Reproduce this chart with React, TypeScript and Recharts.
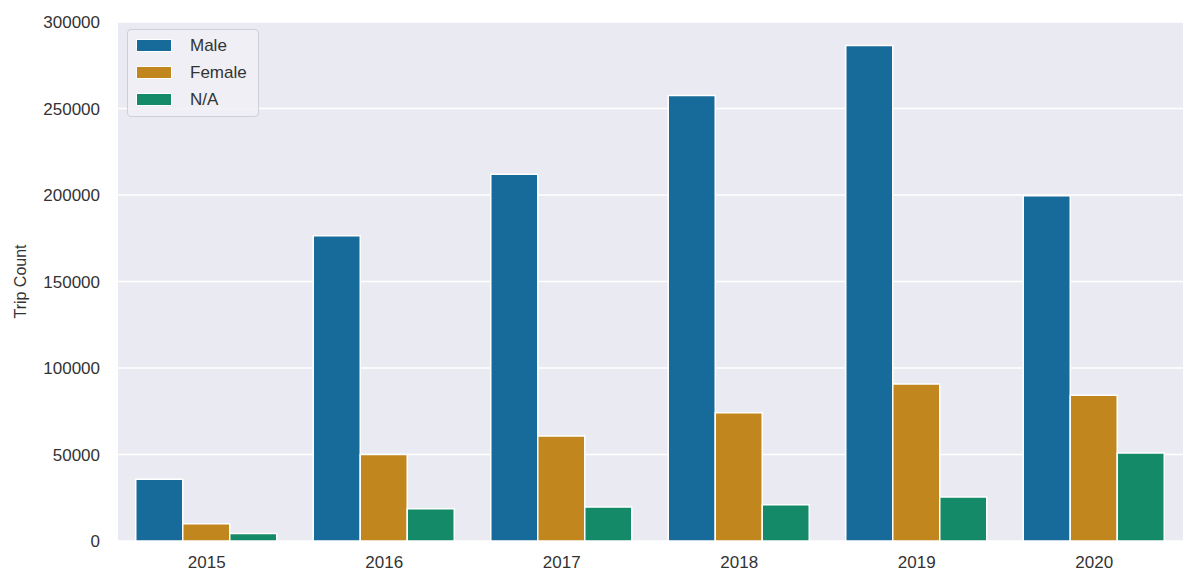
import React from 'react';
import { BarChart, Bar, XAxis, YAxis, CartesianGrid, Legend } from 'recharts';

const years = ['2015', '2016', '2017', '2018', '2019', '2020'];
const male = [35700, 176500, 212000, 257500, 286400, 199500];
const female = [9900, 50000, 60700, 74200, 90800, 84200];
const na = [4300, 18700, 19700, 21000, 25400, 50900];
const yTicks = [0, 50000, 100000, 150000, 200000, 250000, 300000];

const seriesNames = ['Male', 'Female', 'N/A'];
const colors = ['#176b9b', '#c2861f', '#148a68'];

const data = years.map((y, i) => ({ year: y, Male: male[i], Female: female[i], 'N/A': na[i] }));

const FONT = '"Liberation Sans", Arial, Helvetica, sans-serif';

const renderLegend = () => (
  <div
    style={{
      border: '1px solid #cfcfd6',
      borderRadius: 4,
      background: 'rgba(240,240,246,0.85)',
      padding: '2px 10px 2px 8px',
      fontFamily: FONT,
      fontSize: 17,
      color: '#333',
      width: 112,
      height: 82,
      boxSizing: 'content-box',
    }}
  >
    {seriesNames.map((n, i) => (
      <div key={n} style={{ display: 'flex', alignItems: 'center', height: 27 }}>
        <div
          style={{
            width: 34,
            height: 11,
            background: colors[i],
            border: '1px solid #fff',
            marginRight: 18,
          }}
        />
        <span>{n}</span>
      </div>
    ))}
  </div>
);

export default function App() {
  return (
    <div style={{ position: 'absolute', left: 0, top: 0, width: 1200, height: 585, background: '#fff' }}>
      <BarChart
        width={1200}
        height={585}
        data={data}
        margin={{ top: 22, right: 17, bottom: 0, left: 0 }}
        barCategoryGap="10%"
        barGap={0}
      >
        <CartesianGrid fill="#eaeaf2" stroke="#ffffff" strokeWidth={1.5} vertical={false} />
        <XAxis
          dataKey="year"
          height={44}
          axisLine={false}
          tickLine={false}
          tickSize={0}
          tickMargin={15}
          tick={{ fill: '#333', fontSize: 17, fontFamily: FONT }}
        />
        <YAxis
          width={118}
          domain={[0, 300000]}
          ticks={yTicks}
          interval={0}
          axisLine={false}
          tickLine={false}
          tickSize={0}
          tickMargin={18}
          tick={{ fill: '#333', fontSize: 17, fontFamily: FONT }}
          label={{
            value: 'Trip Count',
            angle: -90,
            position: 'insideLeft',
            offset: 20,
            style: { textAnchor: 'middle', fill: '#333', fontSize: 16, fontFamily: FONT },
          }}
        />
        <Legend
          layout="vertical"
          verticalAlign="middle"
          align="center"
          content={renderLegend}
          wrapperStyle={{ position: 'absolute', left: 127, top: 29, width: 'auto', height: 'auto' }}
        />
        {seriesNames.map((n, i) => (
          <Bar key={n} dataKey={n} fill={colors[i]} stroke="#ffffff" strokeWidth={1.5} isAnimationActive={false} />
        ))}
      </BarChart>
    </div>
  );
}
